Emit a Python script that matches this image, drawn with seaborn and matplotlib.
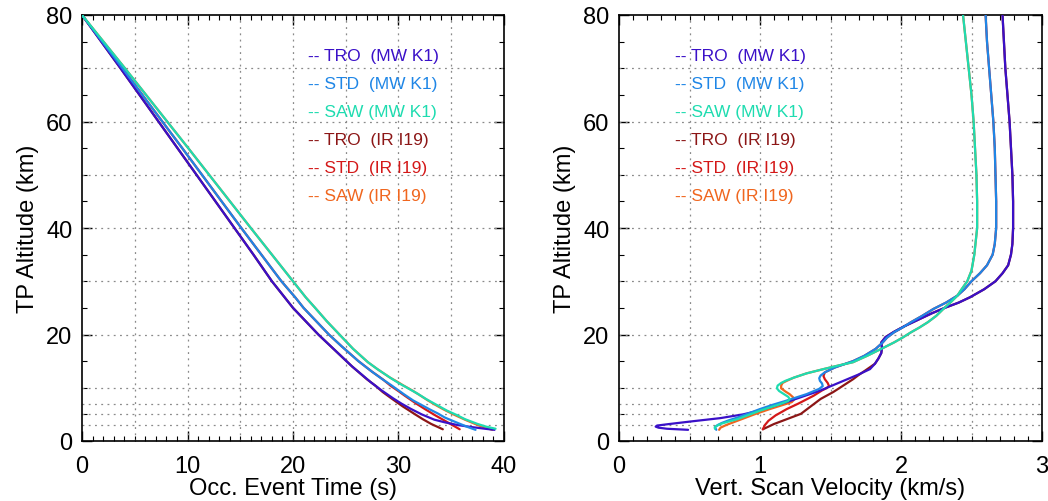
import matplotlib
matplotlib.use("Agg")
import matplotlib.pyplot as plt
import seaborn as sns
import pandas as pd
from matplotlib.ticker import MultipleLocator

sns.set_style("white")
plt.rcParams["font.family"] = ["Liberation Sans", "DejaVu Sans"]

# ---------------- data ----------------
labels = ["-- TRO  (MW K1)", "-- STD  (MW K1)", "-- SAW (MW K1)",
          "-- TRO  (IR I19)", "-- STD  (IR I19)", "-- SAW (IR I19)"]
colors = ["#3a10c8", "#1f86e6", "#1edcb0", "#8c1616", "#d41818", "#f0661e"]

# Left panel: occultation event time (s) vs tangent-point altitude (km)
tro_mw_alt_t = [80, 70, 60, 50, 40, 35, 30, 27, 25, 22.5, 20, 18.5, 17, 15.5, 14, 12.5, 11, 9.5, 8, 7, 6, 5, 4, 3.5, 3, 2.6, 2.3, 2.1]
tro_mw_time = [0, 3.65, 7.25, 10.85, 14.45, 16.25, 18.0, 19.2, 20.0, 21.2, 22.4, 23.2, 24.0, 24.8, 25.6, 26.5, 27.4, 28.4, 29.5, 30.3, 31.2, 32.2, 33.4, 34.4, 35.6, 37.0, 38.2, 39.1]
std_mw_alt_t = [80, 70, 55, 40, 35, 30, 27, 25, 22.5, 20, 17.8, 15, 13, 11.7, 10.5, 8.8, 7.6, 6, 5.2, 4.4, 3.4, 2.6, 2.1]
std_mw_time = [0, 3.83, 9.5, 15.1, 17.0, 18.9, 20.2, 21.0, 22.2, 23.4, 24.6, 26.2, 27.5, 28.4, 29.3, 30.5, 31.4, 32.9, 33.7, 34.4, 35.6, 36.6, 37.3]
saw_mw_alt_t = [80, 70, 55, 40, 30, 27, 25, 22.5, 20, 17.3, 14.8, 13.5, 11.9, 10.9, 9.9, 8.9, 7.9, 6.8, 5.7, 4.9, 4.1, 3.2, 2.7, 2.3]
saw_mw_time = [0, 4.07, 10.07, 16.0, 20.0, 21.2, 22.1, 23.2, 24.4, 25.7, 27.1, 28.0, 29.2, 30.0, 30.9, 31.8, 32.6, 33.6, 34.6, 35.5, 36.3, 37.5, 38.3, 39.2]
tro_ir_alt_t = [80, 70, 60, 50, 40, 35, 30, 27, 25, 22.5, 20, 18.5, 17, 15.5, 14, 12.8, 11.6, 10.4, 9.2, 7.9, 6.5, 5.1, 4.1, 3.2, 2.2]
tro_ir_time = [0, 3.65, 7.25, 10.85, 14.45, 16.25, 18.0, 19.2, 20.0, 21.2, 22.4, 23.2, 24.0, 24.8, 25.6, 26.3, 27.0, 27.8, 28.5, 29.4, 30.4, 31.5, 32.3, 33.1, 34.2]
std_ir_alt_t = [80, 70, 55, 40, 35, 30, 27, 25, 22.5, 20, 17.8, 15, 13, 11.6, 10.3, 9.5, 8.5, 7, 6, 4.8, 3.8, 3.0, 2.2]
std_ir_time = [0, 3.83, 9.5, 15.1, 17.0, 18.9, 20.2, 21.0, 22.2, 23.4, 24.6, 26.2, 27.5, 28.5, 29.3, 29.9, 30.6, 31.7, 32.5, 33.5, 34.4, 35.1, 35.8]
saw_ir_alt_t = [80, 70, 55, 40, 30, 27, 25, 22.5, 20, 17.3, 14.8, 13.5, 11.9, 11, 10.5, 9.5, 8.5, 7.6, 7, 6, 5, 4, 3, 2.5, 2.1]
saw_ir_time = [0, 4.07, 10.07, 16.0, 20.0, 21.2, 22.1, 23.2, 24.4, 25.7, 27.1, 28.0, 29.2, 30.0, 30.4, 31.3, 32.1, 32.8, 33.3, 34.2, 35.2, 36.3, 37.5, 38.2, 38.9]

# Right panel: vertical scan velocity (km/s) vs tangent-point altitude (km)
tro_mw_alt_v = [80, 75, 70, 65, 60, 55, 50, 45, 40, 37, 35, 33, 31.5, 30, 28.5, 27, 26, 25, 24, 22.5, 21.5, 20.5, 19.5, 18.5, 17.5, 16.5, 15.5, 14.5, 13.5, 12.5, 11.5, 10.5, 9.5, 8.5, 7.5, 6.5, 5.5, 5, 4.3, 3.7, 3.2, 2.9, 2.7, 2.5, 2.3, 2.1]
tro_mw_vel = [2.72, 2.73, 2.74, 2.755, 2.77, 2.78, 2.79, 2.795, 2.795, 2.79, 2.78, 2.76, 2.72, 2.67, 2.59, 2.49, 2.41, 2.31, 2.22, 2.10, 2.02, 1.95, 1.89, 1.86, 1.865, 1.86, 1.84, 1.815, 1.78, 1.70, 1.61, 1.52, 1.43, 1.32, 1.21, 1.09, 0.96, 0.88, 0.72, 0.52, 0.36, 0.27, 0.26, 0.28, 0.34, 0.49]
std_mw_alt_v = [80, 75, 70, 65, 60, 55, 50, 45, 40, 37, 35, 33, 31.5, 30, 28.5, 27.3, 26, 24.8, 23.5, 22.3, 21.3, 20.4, 19.4, 18.5, 17.3, 16, 15, 13.8, 12.9, 12.3, 11.8, 11.3, 10.8, 10.3, 9.8, 8.8, 7.6, 6.8, 6, 5.2, 4.4, 3.9, 3.4, 3.0, 2.6, 2.1]
std_mw_vel = [2.60, 2.61, 2.625, 2.64, 2.655, 2.665, 2.67, 2.675, 2.675, 2.665, 2.65, 2.61, 2.56, 2.50, 2.45, 2.40, 2.32, 2.23, 2.15, 2.07, 2.01, 1.95, 1.90, 1.87, 1.82, 1.74, 1.66, 1.53, 1.46, 1.43, 1.42, 1.425, 1.44, 1.445, 1.42, 1.33, 1.19, 1.09, 1.00, 0.92, 0.84, 0.78, 0.73, 0.70, 0.68, 0.69]
saw_mw_alt_v = [80, 75, 70, 65, 60, 55, 50, 45, 40, 35, 32, 30, 28.5, 27.3, 26, 24.8, 23.5, 22.3, 21.3, 20.4, 19.4, 18.5, 17.3, 16, 14.8, 14.2, 13.5, 12.7, 11.9, 11.3, 10.9, 10.4, 9.9, 9.4, 8.8, 8.3, 7.9, 7.5, 6.9, 6.3, 5.7, 4.9, 4.1, 3.6, 3.2, 2.8, 2.6, 2.3]
saw_mw_vel = [2.44, 2.46, 2.48, 2.50, 2.515, 2.525, 2.535, 2.54, 2.54, 2.52, 2.50, 2.47, 2.43, 2.40, 2.35, 2.30, 2.25, 2.19, 2.13, 2.07, 2.01, 1.95, 1.86, 1.76, 1.66, 1.56, 1.45, 1.33, 1.24, 1.18, 1.15, 1.125, 1.12, 1.135, 1.17, 1.20, 1.21, 1.20, 1.14, 1.07, 1.00, 0.92, 0.84, 0.77, 0.72, 0.69, 0.68, 0.68]
tro_ir_alt_v = [80, 75, 70, 65, 60, 55, 50, 45, 40, 37, 35, 33, 31.5, 30, 28.5, 27, 26, 25, 24, 22.5, 21.5, 20.5, 19.5, 18.5, 17.5, 16.5, 15.5, 14.5, 13.3, 12.4, 11.6, 10.4, 9.2, 7.9, 6.5, 5.1, 4.1, 3.2, 2.2]
tro_ir_vel = [2.72, 2.73, 2.74, 2.755, 2.77, 2.78, 2.79, 2.795, 2.795, 2.79, 2.78, 2.76, 2.72, 2.67, 2.59, 2.49, 2.41, 2.31, 2.22, 2.10, 2.02, 1.95, 1.89, 1.86, 1.865, 1.86, 1.84, 1.815, 1.75, 1.70, 1.66, 1.59, 1.52, 1.43, 1.36, 1.29, 1.19, 1.10, 1.02]
std_ir_alt_v = [80, 75, 70, 65, 60, 55, 50, 45, 40, 37, 35, 33, 31.5, 30, 28.5, 27.3, 26, 24.8, 23.5, 22.3, 21.3, 20.4, 19.4, 18.5, 17.3, 16, 15, 13.8, 12.9, 12.2, 11.6, 10.9, 10.3, 9.9, 9.5, 8.5, 7, 6, 4.8, 3.8, 3.0, 2.2]
std_ir_vel = [2.60, 2.61, 2.625, 2.64, 2.655, 2.665, 2.67, 2.675, 2.675, 2.665, 2.65, 2.61, 2.56, 2.50, 2.45, 2.40, 2.32, 2.23, 2.15, 2.07, 2.01, 1.95, 1.90, 1.87, 1.82, 1.74, 1.66, 1.53, 1.46, 1.45, 1.46, 1.48, 1.49, 1.47, 1.44, 1.38, 1.27, 1.19, 1.11, 1.06, 1.035, 1.02]
saw_ir_alt_v = [80, 75, 70, 65, 60, 55, 50, 45, 40, 35, 32, 30, 28.5, 27.3, 26, 24.8, 23.5, 22.3, 21.3, 20.4, 19.4, 18.5, 17.3, 16, 14.8, 14.2, 13.5, 12.7, 11.9, 11.3, 10.9, 10.4, 9.9, 9.3, 8.8, 8.2, 7.7, 7.3, 7, 6.5, 6, 5, 4, 3, 2.5, 2.1]
saw_ir_vel = [2.44, 2.46, 2.48, 2.50, 2.515, 2.525, 2.535, 2.54, 2.54, 2.52, 2.50, 2.47, 2.43, 2.40, 2.35, 2.30, 2.25, 2.19, 2.13, 2.07, 2.01, 1.95, 1.86, 1.76, 1.66, 1.56, 1.45, 1.33, 1.24, 1.19, 1.16, 1.15, 1.15, 1.18, 1.21, 1.235, 1.24, 1.225, 1.19, 1.13, 1.07, 0.96, 0.86, 0.76, 0.72, 0.71]

left_series = [(tro_mw_time, tro_mw_alt_t), (std_mw_time, std_mw_alt_t), (saw_mw_time, saw_mw_alt_t),
               (tro_ir_time, tro_ir_alt_t), (std_ir_time, std_ir_alt_t), (saw_ir_time, saw_ir_alt_t)]
right_series = [(tro_mw_vel, tro_mw_alt_v), (std_mw_vel, std_mw_alt_v), (saw_mw_vel, saw_mw_alt_v),
                (tro_ir_vel, tro_ir_alt_v), (std_ir_vel, std_ir_alt_v), (saw_ir_vel, saw_ir_alt_v)]

hgrid = [3, 5, 7, 10, 20, 30, 40, 50, 60, 70]
vgrid_left = [5, 10, 15, 20, 25, 30, 35]
vgrid_right = [0.5, 1.0, 1.5, 2.0, 2.5]

# ---------------- figure ----------------
W, H = 1048, 502
fig = plt.figure(figsize=(W / 100, H / 100), dpi=100)
axL = fig.add_axes([82 / W, 60 / H, 422 / W, 426 / H])
axR = fig.add_axes([619 / W, 60 / H, 423 / W, 426 / H])

draw_order = [3, 4, 5, 0, 1, 2]  # IR lines underneath MW lines


def plot_panel(ax, series):
    for i in draw_order:
        x, y = series[i]
        df = pd.DataFrame({"x": x, "y": y})
        sns.lineplot(data=df, x="x", y="y", sort=False, estimator=None,
                     color=colors[i], lw=1.6, ax=ax, zorder=3)


def style(ax, xmax, xmajor, xminor, vgrid, xlabel):
    ax.set_xlim(0, xmax)
    ax.set_ylim(0, 80)
    ax.xaxis.set_major_locator(MultipleLocator(xmajor))
    ax.xaxis.set_minor_locator(MultipleLocator(xminor))
    ax.yaxis.set_major_locator(MultipleLocator(20))
    ax.yaxis.set_minor_locator(MultipleLocator(5))
    ax.tick_params(which="both", direction="in", top=True, right=True,
                   bottom=True, left=True, color="black")
    ax.tick_params(which="major", length=7, width=1.0, labelsize=17,
                   labelcolor="black")
    ax.tick_params(axis="x", which="major", pad=10)
    ax.tick_params(axis="y", which="major", pad=7)
    ax.tick_params(which="minor", length=3.5, width=0.8)
    for s in ax.spines.values():
        s.set_color("black")
        s.set_linewidth(1.2)
    for g in vgrid:
        ax.axvline(g, color="#8a8a8a", lw=0.9, ls=(0, (1.5, 3.5)), zorder=1)
    for g in hgrid:
        ax.axhline(g, color="#8a8a8a", lw=0.9, ls=(0, (1.5, 3.5)), zorder=1)
    ax.set_xlabel(xlabel, fontsize=17, labelpad=0, color="black")
    ax.set_ylabel("TP Altitude (km)", fontsize=17, labelpad=5, color="black")


plot_panel(axL, left_series)
plot_panel(axR, right_series)
style(axL, 40, 10, 1, vgrid_left, "Occ. Event Time (s)")
style(axR, 3, 1, 0.1, vgrid_right, "Vert. Scan Velocity (km/s)")

for ax, x0 in [(axL, 0.5355), (axR, 0.1324)]:
    for i, lab in enumerate(labels):
        ax.text(x0, 0.9045 - i * 0.0657, lab, color=colors[i], fontsize=12.5,
                transform=ax.transAxes, ha="left", va="center", zorder=4)

fig.savefig("out.png", dpi=100)
